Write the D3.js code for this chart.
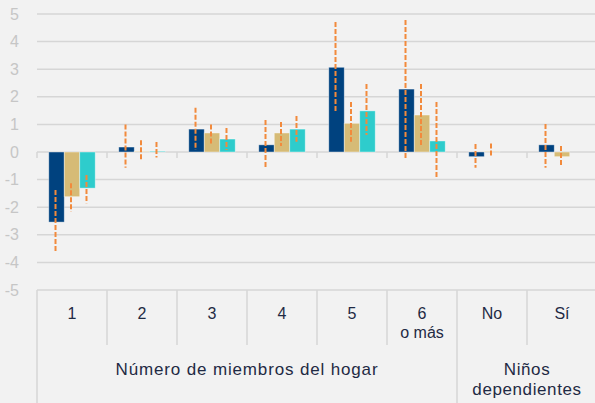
<!DOCTYPE html>
<html>
<head>
<meta charset="utf-8">
<script src="https://cdn.jsdelivr.net/npm/d3@7/dist/d3.min.js"></script>
<style>
  html, body { margin: 0; padding: 0; background: #f2f2f2; }
  svg { display: block; font-family: "Liberation Sans", Arial, sans-serif; }
</style>
</head>
<body>
<div id="chart"></div>
<script>
// categories and groups
const categories = ['1', '2', '3', '4', '5', '6 o más', 'No', 'Sí'];
const groups = [
  { label: ['Número de miembros del hogar'], first: '1', last: '6 o más' },
  { label: ['Niños', 'dependientes'], first: 'No', last: 'Sí' },
];
const series = ['s1', 's2', 's3'];
const colors = ['#00427f', '#d6bb76', '#2ecccc'];

// bar values per series (null = no bar)
const s1Values = [-2.54, 0.18, 0.83, 0.26, 3.07, 2.28, -0.17, 0.26];
const s2Values = [-1.62, 0.02, 0.69, 0.69, 1.04, 1.34, 0.02, -0.17];
const s3Values = [-1.31, 0.03, 0.47, 0.83, 1.49, 0.40, null, null];

// error bar ranges [low, high]
const s1Errors = [[-3.66, -1.38], [-0.57, 1.0], [0.07, 1.6], [-0.58, 1.16], [1.46, 4.71], [-0.29, 4.78], [-0.57, 0.29], [-0.57, 1.01]];
const s2Errors = [[-2.16, -1.13], [-0.26, 0.43], [0.29, 1.0], [0.22, 1.09], [0.37, 1.81], [0.18, 2.46], [-0.13, 0.31], [-0.5, 0.22]];
const s3Errors = [[-1.86, -0.83], [-0.2, 0.36], [0.07, 0.87], [0.37, 1.3], [0.62, 2.46], [-0.93, 1.81], null, null];

const yTicks = [-5, -4, -3, -2, -1, 0, 1, 2, 3, 4, 5];

const values = [s1Values, s2Values, s3Values];
const errors = [s1Errors, s2Errors, s3Errors];

const width = 595, height = 403;
const margin = { top: 14, right: -2, left: 37 };
const plotBottom = 290;
const textColor = '#1f2a44';

const svg = d3.select('#chart').append('svg')
  .attr('width', width)
  .attr('height', height);

svg.append('rect').attr('width', width).attr('height', height).attr('fill', '#f2f2f2');

const x = d3.scaleBand()
  .domain(categories)
  .range([margin.left, width - margin.right])
  .paddingInner(0)
  .paddingOuter(0);

const x1 = d3.scaleBand()
  .domain(series)
  .range([0, x.bandwidth()])
  .paddingOuter(0.76)
  .paddingInner(0);

const y = d3.scaleLinear()
  .domain([-5, 5])
  .range([plotBottom, margin.top]);

// gridlines
svg.append('g')
  .selectAll('line')
  .data(yTicks)
  .join('line')
  .attr('x1', margin.left)
  .attr('x2', width)
  .attr('y1', d => y(d))
  .attr('y2', d => y(d))
  .attr('stroke', '#d6d6d6')
  .attr('stroke-width', 1.5);

// y labels
svg.append('g')
  .selectAll('text')
  .data(yTicks)
  .join('text')
  .attr('x', 19)
  .attr('y', d => y(d))
  .attr('dy', '0.35em')
  .attr('text-anchor', 'end')
  .attr('font-size', 16)
  .attr('fill', '#c6c6c6')
  .text(d => d);

// zero axis ticks
svg.append('g')
  .selectAll('line')
  .data(categories.concat(['end']))
  .join('line')
  .attr('x1', (d, i) => margin.left + i * x.bandwidth())
  .attr('x2', (d, i) => margin.left + i * x.bandwidth())
  .attr('y1', y(0))
  .attr('y2', y(0) + 6)
  .attr('stroke', '#d6d6d6')
  .attr('stroke-width', 1.5);

// bars
series.forEach((s, si) => {
  const g = svg.append('g');
  const rows = categories.map((c, i) => ({ c, v: values[si][i] }));
  g.selectAll('rect')
    .data(rows.filter(d => d.v !== null))
    .join('rect')
    .attr('x', d => x(d.c) + x1(s))
    .attr('width', x1.bandwidth())
    .attr('y', d => y(Math.max(0, d.v)))
    .attr('height', d => Math.abs(y(d.v) - y(0)))
    .attr('fill', colors[si])
    .attr('stroke', '#ffffff')
    .attr('stroke-opacity', 0.5)
    .attr('stroke-width', 0.8);
});

// error bars
series.forEach((s, si) => {
  const rows = categories.map((c, i) => ({ c, e: errors[si][i] })).filter(d => d.e !== null);
  svg.append('g')
    .selectAll('line')
    .data(rows)
    .join('line')
    .attr('x1', d => x(d.c) + x1(s) + x1.bandwidth() / 2 - 1)
    .attr('x2', d => x(d.c) + x1(s) + x1.bandwidth() / 2 - 1)
    .attr('y1', d => y(d.e[1]))
    .attr('y2', d => y(d.e[0]))
    .attr('stroke', '#f28a3c')
    .attr('stroke-width', 2)
    .attr('stroke-dasharray', '5,2');
});

// bottom category table
const table = svg.append('g');
const bw = x.bandwidth();
categories.forEach((c, i) => {
  if (i === 0) return;
  const isGroupEdge = groups.some(gr => gr.first === c);
  table.append('line')
    .attr('x1', x(c)).attr('x2', x(c))
    .attr('y1', plotBottom)
    .attr('y2', isGroupEdge ? height : 345)
    .attr('stroke', '#d6d6d6')
    .attr('stroke-width', 1.5);
});
table.append('line')
  .attr('x1', margin.left).attr('x2', margin.left)
  .attr('y1', plotBottom).attr('y2', height)
  .attr('stroke', '#d6d6d6').attr('stroke-width', 1.5);

table.selectAll('text.cat')
  .data(categories)
  .join('text')
  .attr('class', 'cat')
  .attr('x', d => x(d) + bw / 2)
  .attr('y', 319)
  .attr('text-anchor', 'middle')
  .attr('font-size', 16)
  .attr('fill', textColor)
  .each(function (d) {
    const parts = d === '6 o más' ? ['6', 'o más'] : [d];
    d3.select(this).selectAll('tspan')
      .data(parts)
      .join('tspan')
      .attr('x', x(d) + bw / 2)
      .attr('dy', (p, j) => j === 0 ? 0 : 19)
      .text(p => p);
  });

groups.forEach(gr => {
  const cx = (x(gr.first) + x(gr.last) + bw) / 2;
  const t = table.append('text')
    .attr('x', cx)
    .attr('y', 375)
    .attr('text-anchor', 'middle')
    .attr('font-size', 17)
    .attr('letter-spacing', gr.label.length === 1 ? 0.85 : 0.6)
    .attr('fill', textColor);
  t.selectAll('tspan')
    .data(gr.label)
    .join('tspan')
    .attr('x', cx)
    .attr('dy', (p, j) => j === 0 ? 0 : 20)
    .text(p => p);
});
</script>
</body>
</html>
